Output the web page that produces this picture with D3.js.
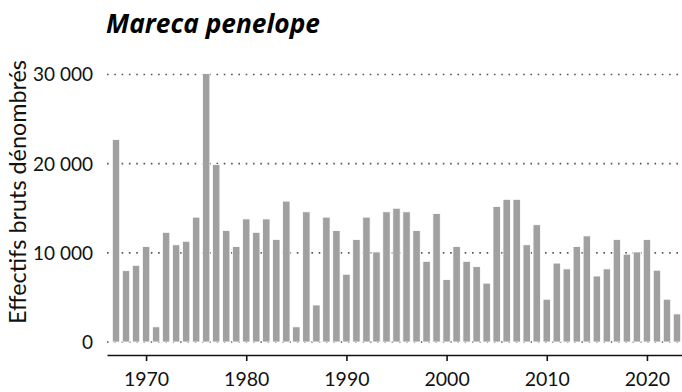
<!DOCTYPE html>
<html>
<head>
<meta charset="utf-8">
<script src="https://cdn.jsdelivr.net/npm/d3@7"></script>
<style>
  html, body { margin: 0; padding: 0; background: #fff; }
  svg { display: block; font-family: Lato, "Open Sans", sans-serif; }
</style>
</head>
<body>
<svg id="chart" width="682" height="392"></svg>
<script>
// Annual counts of Eurasian wigeon (Mareca penelope), 1967–2023
const years = d3.range(1967, 2024);
const counts = [
  22700, 8000, 8600, 10700, 1700, 12300, 10900, 11300, 14000, 30100,
  19900, 12500, 10700, 13800, 12300, 13800, 11500, 15800, 1700, 14600,
  4150, 14000, 12500, 7600, 11500, 14000, 10100, 14600, 15000, 14600,
  12500, 9050, 14400, 7000, 10700, 9050, 8450, 6600, 15200, 16000,
  16000, 10900, 13150, 4800, 8850, 8200, 10700, 11900, 7400, 8200,
  11500, 9850, 10100, 11500, 8050, 4800, 3150
];
const yTicks = [0, 10000, 20000, 30000];
const xTicks = [1970, 1980, 1990, 2000, 2010, 2020];
const title = "Mareca penelope";
const yTitle = "Effectifs bruts dénombrés";

const svg = d3.select("#chart");
const plotLeft = 107, plotRight = 682, plotBase = 342, plotTop = 74.5, axisY = 355;

const x = d3.scaleLinear().domain([1966.1, 2023.5]).range([plotLeft, plotRight]);
const y = d3.scaleLinear().domain([0, 30000]).range([plotBase, plotTop]);
const barW = 7.4;

const fmt = v => d3.format(",")(v).replace(/,/g, " ");

// scale a text's font size so that it spans the wanted width
function fitText(sel, width) {
  const size = parseFloat(sel.attr("font-size"));
  const w = sel.node().getComputedTextLength();
  if (w > 0) sel.attr("font-size", (size * width / w).toFixed(2));
}

// dotted horizontal gridlines
svg.append("g")
  .selectAll("line")
  .data(yTicks)
  .join("line")
  .attr("x1", plotLeft).attr("x2", plotRight)
  .attr("y1", d => y(d)).attr("y2", d => y(d))
  .attr("stroke", "#555")
  .attr("stroke-width", 1.6)
  .attr("stroke-dasharray", "1.6,5.7");

// y tick labels
svg.append("g")
  .selectAll("text")
  .data(yTicks)
  .join("text")
  .attr("x", 93)
  .attr("y", d => y(d))
  .attr("dy", "0.36em")
  .attr("text-anchor", "end")
  .attr("font-size", 19)
  .attr("fill", "#111")
  .text(d => fmt(d));

// bars
svg.append("g")
  .selectAll("rect")
  .data(years)
  .join("rect")
  .attr("x", d => x(d) - barW / 2)
  .attr("width", barW)
  .attr("y", (d, i) => y(counts[i]))
  .attr("height", (d, i) => plotBase - y(counts[i]))
  .attr("fill", "#a0a0a0")
  .attr("stroke", "#fff")
  .attr("stroke-width", 0.8);

// x axis
const xAxis = d3.axisBottom(x)
  .tickValues(xTicks)
  .tickFormat(d3.format("d"))
  .tickSizeInner(6)
  .tickSizeOuter(0)
  .tickPadding(11);

const gx = svg.append("g")
  .attr("transform", `translate(0,${axisY})`)
  .call(xAxis);
gx.select(".domain").attr("stroke", "#111").attr("stroke-width", 1.6);
gx.selectAll(".tick line").attr("stroke", "#111").attr("stroke-width", 1.6);
gx.selectAll(".tick text")
  .attr("font-family", "Lato, 'Open Sans', sans-serif")
  .attr("font-size", 19.5)
  .attr("fill", "#111");

// y axis title
const yt = svg.append("text")
  .attr("transform", "translate(26,192) rotate(-90)")
  .attr("text-anchor", "middle")
  .attr("font-size", 20)
  .attr("fill", "#111")
  .text(yTitle);
fitText(yt, 264);

// chart title
const tt = svg.append("text")
  .attr("x", 106)
  .attr("y", 33)
  .attr("font-family", "'Open Sans', Lato, sans-serif")
  .attr("font-size", 23)
  .attr("font-weight", "bold")
  .attr("font-style", "italic")
  .attr("fill", "#000")
  .text(title);
fitText(tt, 214);
</script>
</body>
</html>
